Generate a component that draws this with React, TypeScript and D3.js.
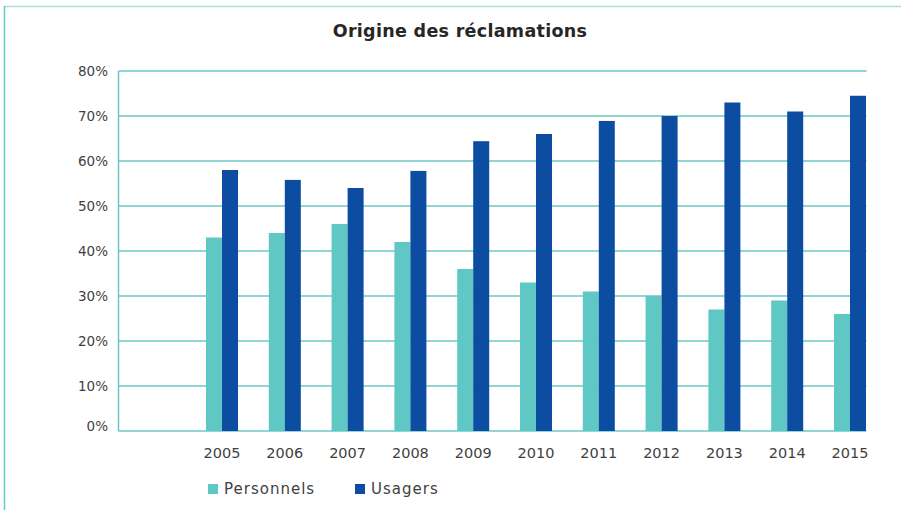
import React from "react";
import * as d3 from "d3";

const years = ["2005", "2006", "2007", "2008", "2009", "2010", "2011", "2012", "2013", "2014", "2015"];
const personnels = [43, 44, 46, 42, 36, 33, 31, 30, 27, 29, 26];
const usagers = [58, 55.8, 54, 57.8, 64.4, 66, 68.9, 70, 73, 71, 74.5];
const seriesNames = ["Personnels", "Usagers"];
const seriesColors = ["#5fc7c4", "#0d4da1"];
const yTicks = [0, 10, 20, 30, 40, 50, 60, 70, 80];
const title = "Origine des réclamations";

const W = 901;
const H = 510;
const plotLeft = 118.5;
const plotRight = 866.5;
const plotTop = 71;
const plotBottom = 431;
const gridColor = "#6cc8c6";
const textColor = "#3f3f3f";
const font = "'DejaVu Sans', sans-serif";

export default function App() {
  const y = d3.scaleLinear().domain([0, 80]).range([plotBottom, plotTop]);
  const x = d3.scaleBand<string>().domain(years).range([190.6, 881.4]).padding(0);
  const barW = 16;
  const xs = d3.scaleBand<string>().domain(seriesNames).range([0, barW * 2]).padding(0);
  const values = [personnels, usagers];

  return (
    <div style={{ position: "absolute", left: 0, top: 0 }}>
      <svg width={W} height={H} style={{ display: "block" }}>
        <rect x={0} y={0} width={W} height={H} fill="#ffffff" />
        {/* frame */}
        <line x1={4} y1={6.5} x2={W} y2={6.5} stroke="#a9dedb" strokeWidth={1.5} />
        <line x1={4.5} y1={6} x2={4.5} y2={H} stroke="#5ccfcc" strokeWidth={1.5} />

        <text x={460} y={37} textAnchor="middle" fontFamily={font} fontWeight="bold" fontSize={17.5} letterSpacing={0.3} fill="#262626">
          {title}
        </text>

        {/* grid */}
        {yTicks.map((t) => (
          <line key={"g" + t} x1={plotLeft} x2={plotRight} y1={y(t)} y2={y(t)} stroke={gridColor} strokeWidth={1.5} />
        ))}
        <line x1={plotLeft} x2={plotLeft} y1={plotTop} y2={plotBottom} stroke={gridColor} strokeWidth={1.5} />

        {yTicks.map((t) => (
          <text
            key={"t" + t}
            x={108}
            y={t === 0 ? y(t) : y(t) + 4.5}
            textAnchor="end"
            fontFamily={font}
            fontSize={13.5}
            fill={textColor}
          >
            {t + "%"}
          </text>
        ))}

        {/* bars */}
        {years.map((yr, i) => {
          const c = (x(yr) as number) + x.bandwidth() / 2;
          return (
            <g key={yr}>
              {seriesNames.map((s, k) => (
                <rect
                  key={s}
                  x={c - barW + (xs(s) as number)}
                  y={y(values[k][i])}
                  width={xs.bandwidth()}
                  height={plotBottom - y(values[k][i])}
                  fill={seriesColors[k]}
                />
              ))}
              <text x={c} y={458} textAnchor="middle" fontFamily={font} fontSize={14.5} fill={textColor}>
                {yr}
              </text>
            </g>
          );
        })}

        {/* legend */}
        {seriesNames.map((s, k) => {
          const lx = [208, 355][k];
          return (
            <g key={"l" + s}>
              <rect x={lx} y={484} width={10} height={10} fill={seriesColors[k]} />
              <text x={lx + 16} y={494} fontFamily={font} fontSize={15} letterSpacing={1} fill={textColor}>
                {s}
              </text>
            </g>
          );
        })}
      </svg>
    </div>
  );
}
